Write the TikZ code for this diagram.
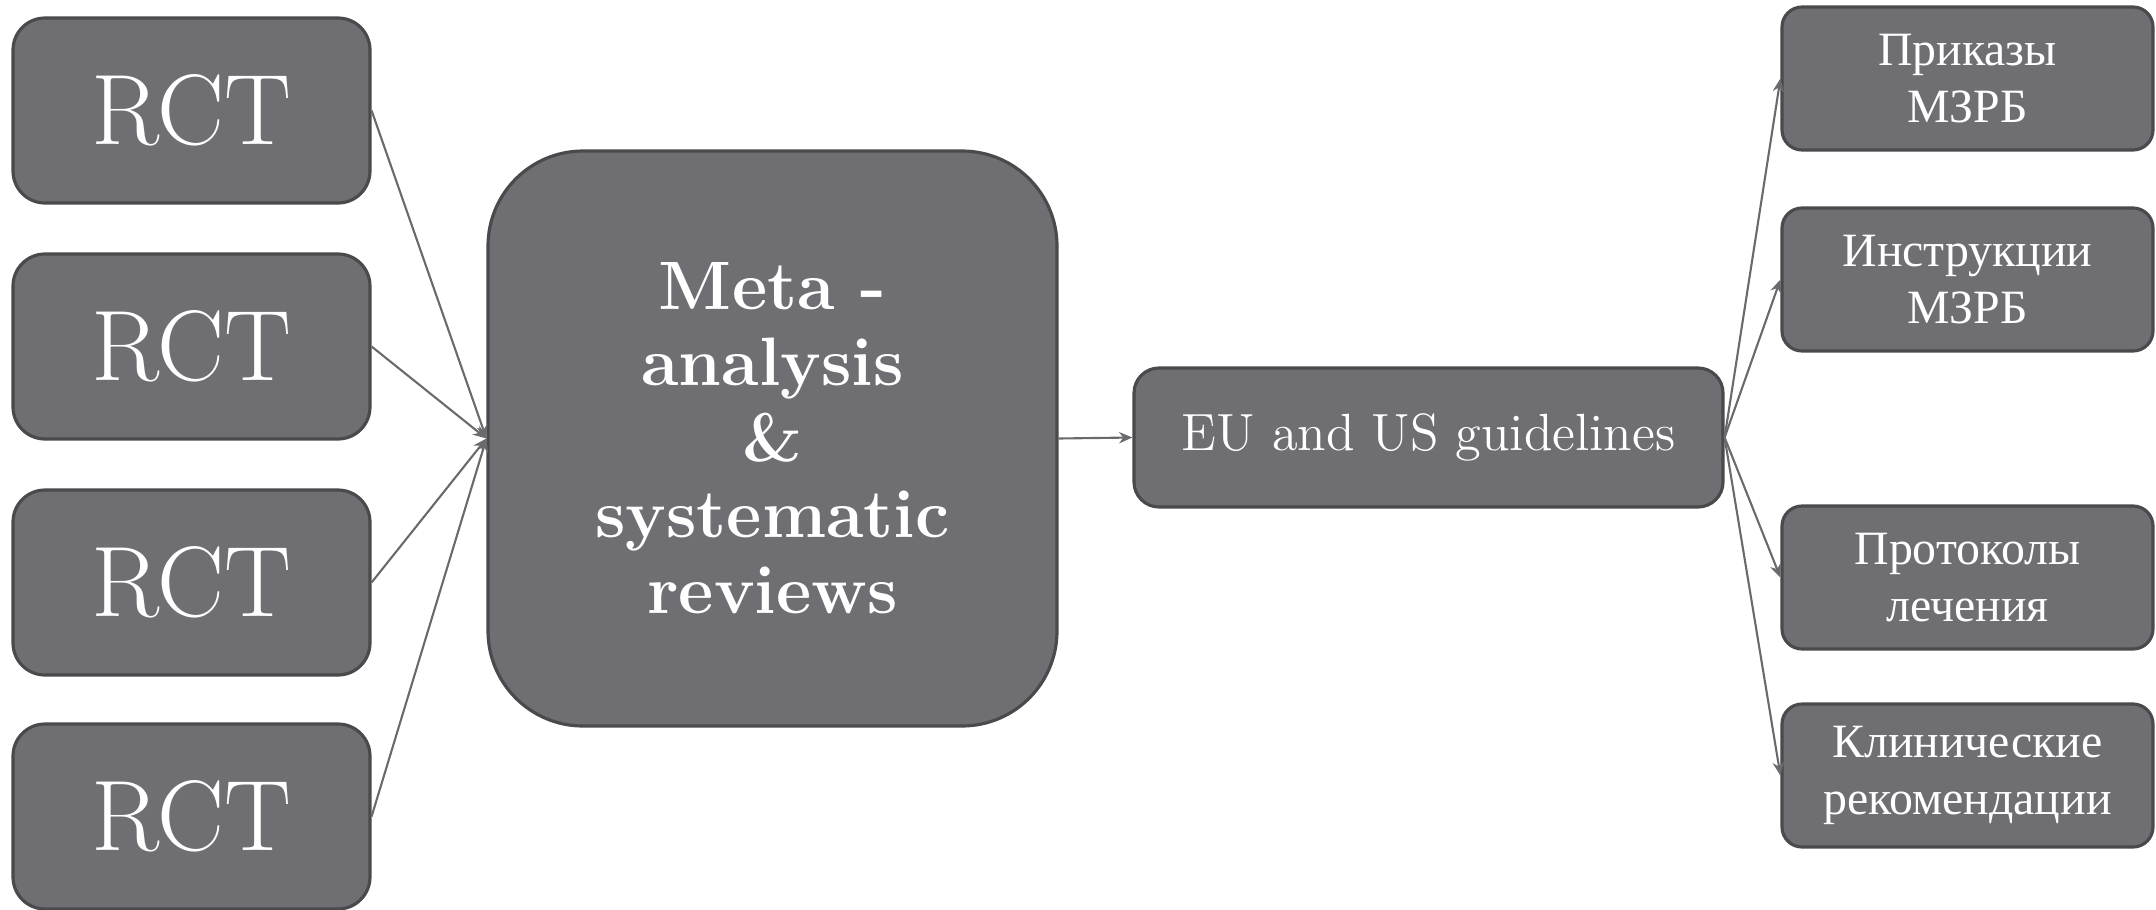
\documentclass[tikz,border=0pt]{standalone}
\usepackage{fontspec}
\newfontfamily\cyrfont{Liberation Serif}
\usetikzlibrary{arrows.meta}

\definecolor{boxgray}{HTML}{6F6E73}
\definecolor{edgegray}{HTML}{4A4A4D}
\definecolor{linegray}{HTML}{6A6A6C}

\begin{document}
\begin{tikzpicture}[>={Stealth[length=3.8pt,width=3.2pt]},
    box/.style={draw=edgegray, line width=0.9pt, fill=boxgray, text=white, align=center, inner sep=0pt},
    rct/.style={box, rounded corners=0.32cm, minimum width=3.57cm, minimum height=1.85cm, font=\fontsize{28.5}{31}\selectfont},
    metabox/.style={box, rounded corners=0.95cm, minimum width=5.69cm, minimum height=5.75cm, font=\fontsize{19.5}{21.6}\selectfont\bfseries},
    guidebox/.style={box, rounded corners=0.25cm, minimum width=5.89cm, minimum height=1.39cm, font=\fontsize{14.9}{17}\selectfont},
    docbox/.style={box, rounded corners=0.2cm, minimum width=3.71cm, minimum height=1.43cm, font=\fontsize{13.6}{16}\selectfont\cyrfont},
    link/.style={->, draw=linegray, line width=0.6pt}]
    \useasboundingbox (0,0) rectangle (21.56,-9.09);
    % RCT
    \node[rct] (rctA) at (1.915,-1.105) {RCT};
    \node[rct] (rctB) at (1.915,-3.465) {RCT};
    \node[rct] (rctC) at (1.915,-5.825) {RCT};
    \node[rct] (rctD) at (1.915,-8.165) {RCT};
    % meta-analysis
    \node[metabox] (meta) at (7.725,-4.385) {Meta -\\analysis\\\&\\systematic\\reviews};
    % guidelines
    \node[guidebox] (guide) at (14.285,-4.375) {EU and US guidelines};
    % documents
    \node[docbox] (prikaz) at (19.675,-0.785) {Приказы\\МЗРБ};
    \node[docbox] (instr) at (19.675,-2.795) {Инструкции\\МЗРБ};
    \node[docbox] (protocol) at (19.675,-5.775) {Протоколы\\лечения};
    \node[docbox] (clinic) at (19.675,-7.755) {Клинические\\рекомендации};
    % links
    \draw[link] (rctA.east) -- (meta.west);
    \draw[link] (rctB.east) -- (meta.west);
    \draw[link] (rctC.east) -- (meta.west);
    \draw[link] (rctD.east) -- (meta.west);
    \draw[link] (meta.east) -- (guide.west);
    \draw[link] (guide.east) -- (prikaz.west);
    \draw[link] (guide.east) -- (instr.west);
    \draw[link] (guide.east) -- (protocol.west);
    \draw[link] (guide.east) -- (clinic.west);
\end{tikzpicture}
\end{document}
